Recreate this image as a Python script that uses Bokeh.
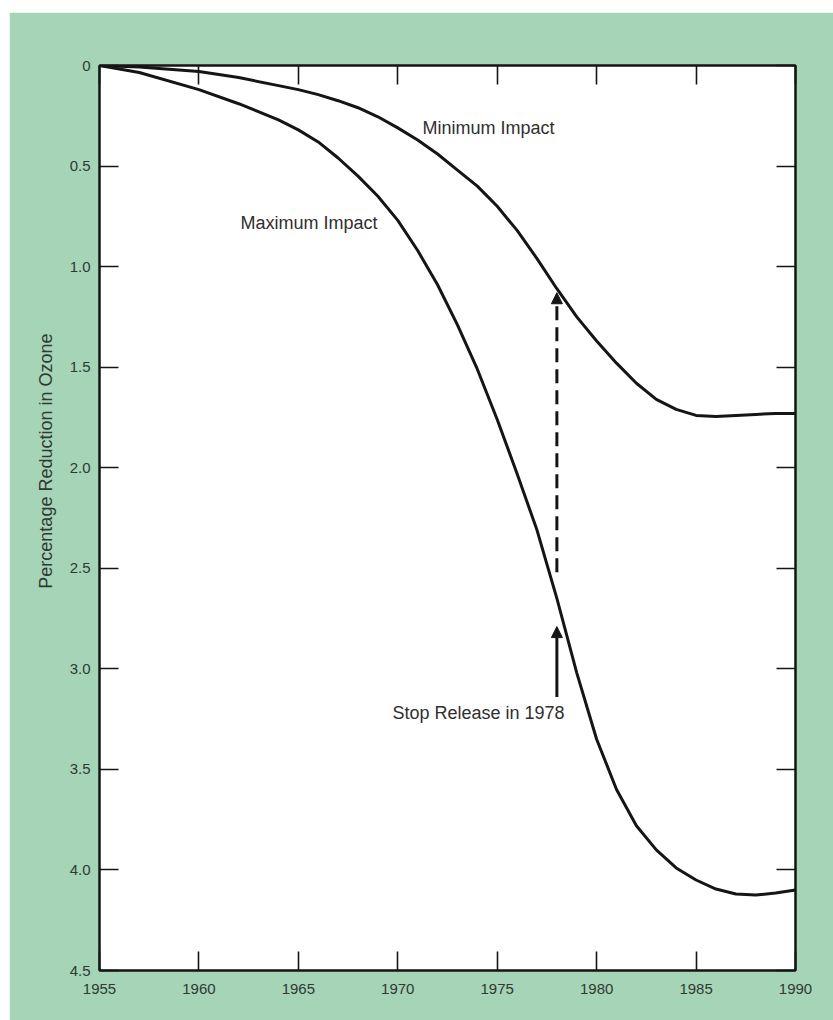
from bokeh.plotting import figure
from bokeh.models import (Range1d, FixedTicker, LinearAxis, Label, Arrow,
                          NormalHead, PrintfTickFormatter, Title)
from bokeh.embed import file_html
from bokeh.resources import INLINE

# ---- data ----
years = [1955, 1957, 1960, 1962, 1964, 1965, 1966, 1967, 1968, 1969, 1970,
         1971, 1972, 1973, 1974, 1975, 1976, 1977, 1978, 1979, 1980,
         1981, 1982, 1983, 1984, 1985, 1986, 1987, 1988, 1989, 1990]
minimum_impact = [0.0, 0.008, 0.03, 0.06, 0.10, 0.12, 0.145, 0.175, 0.21, 0.255, 0.31,
                  0.37, 0.44, 0.52, 0.60, 0.70, 0.82, 0.96, 1.11, 1.25, 1.37,
                  1.48, 1.58, 1.66, 1.71, 1.74, 1.745, 1.74, 1.735, 1.73, 1.73]
maximum_impact = [0.0, 0.035, 0.12, 0.19, 0.27, 0.32, 0.38, 0.46, 0.55, 0.65, 0.77,
                  0.92, 1.09, 1.29, 1.51, 1.76, 2.03, 2.31, 2.65, 3.02, 3.35,
                  3.60, 3.78, 3.90, 3.99, 4.05, 4.095, 4.12, 4.125, 4.115, 4.10]
x_ticks = [1955, 1960, 1965, 1970, 1975, 1980, 1985, 1990]
y_ticks = [0, 0.5, 1.0, 1.5, 2.0, 2.5, 3.0, 3.5, 4.0, 4.5]

stop_year = 1978
solid_arrow = (3.14, 2.79)    # from, to (percentage)
dashed_arrow = (2.52, 1.13)

GREEN = "#a6d4b6"
INK = "#151515"
TXT = "#2f2f2f"
TICKTXT = "#2e3a33"
FONT = "Liberation Sans"

p = figure(frame_width=696, frame_height=905,
           min_border_left=90, min_border_right=38,
           min_border_top=53, min_border_bottom=58,
           x_range=Range1d(1955, 1990), y_range=Range1d(4.5, 0),
           output_backend="svg", toolbar_location=None)
p.margin = (12, 0, 0, 9)
p.background_fill_color = "white"
p.border_fill_color = GREEN
p.outline_line_color = INK
p.outline_line_width = 2
p.grid.visible = False

def style_axis(ax, show_labels):
    ax.major_tick_in = 19
    ax.major_tick_out = 0
    ax.minor_tick_line_color = None
    ax.major_tick_line_width = 1.6
    ax.major_tick_line_color = INK
    ax.axis_line_color = INK
    ax.axis_line_width = 2
    ax.major_label_text_font = FONT
    ax.major_label_text_font_size = "15px"
    ax.major_label_text_color = TICKTXT if show_labels else None

p.xaxis.ticker = FixedTicker(ticks=x_ticks)
p.yaxis.ticker = FixedTicker(ticks=y_ticks)
p.yaxis.formatter = PrintfTickFormatter(format="%.1f")
p.yaxis.major_label_overrides = {0: "0"}
style_axis(p.xaxis[0], True)
style_axis(p.yaxis[0], True)
p.xaxis.major_label_standoff = 13
p.yaxis.major_label_standoff = 9

top = LinearAxis(ticker=FixedTicker(ticks=x_ticks))
top.major_label_overrides = {t: "" for t in x_ticks}
style_axis(top, False)
p.add_layout(top, "above")
right = LinearAxis(ticker=FixedTicker(ticks=y_ticks))
right.major_label_overrides = {t: "" for t in y_ticks}
style_axis(right, False)
p.add_layout(right, "right")

p.line(years, minimum_impact, line_width=3, line_color=INK, line_join="round")
p.line(years, maximum_impact, line_width=3, line_color=INK, line_join="round")

p.add_layout(Arrow(end=NormalHead(size=11, fill_color=INK, line_color=INK, line_width=1),
                   x_start=stop_year, y_start=solid_arrow[0],
                   x_end=stop_year, y_end=solid_arrow[1],
                   line_width=3, line_color=INK))
p.add_layout(Arrow(end=NormalHead(size=11, fill_color=INK, line_color=INK, line_width=1),
                   x_start=stop_year, y_start=dashed_arrow[0],
                   x_end=stop_year, y_end=dashed_arrow[1],
                   line_width=3, line_color=INK, line_dash="14 7"))

for txt, x, y in [("Minimum Impact", 1971.24, 0.31),
                  ("Maximum Impact", 1962.09, 0.785),
                  ("Stop Release in 1978", 1969.73, 3.22)]:
    p.add_layout(Label(x=x, y=y, text=txt, text_font=FONT, text_font_size="18px",
                       text_color=TXT, text_align="left", text_baseline="middle"))

ytitle = Title(text="Percentage Reduction in Ozone", align="right", offset=268,
               text_font=FONT, text_font_size="18px", text_font_style="normal",
               text_color=TICKTXT)
try:
    ytitle.standoff = 22
except Exception:
    pass
p.add_layout(ytitle, "left")

open("out.html", "w").write(file_html(p, INLINE))
